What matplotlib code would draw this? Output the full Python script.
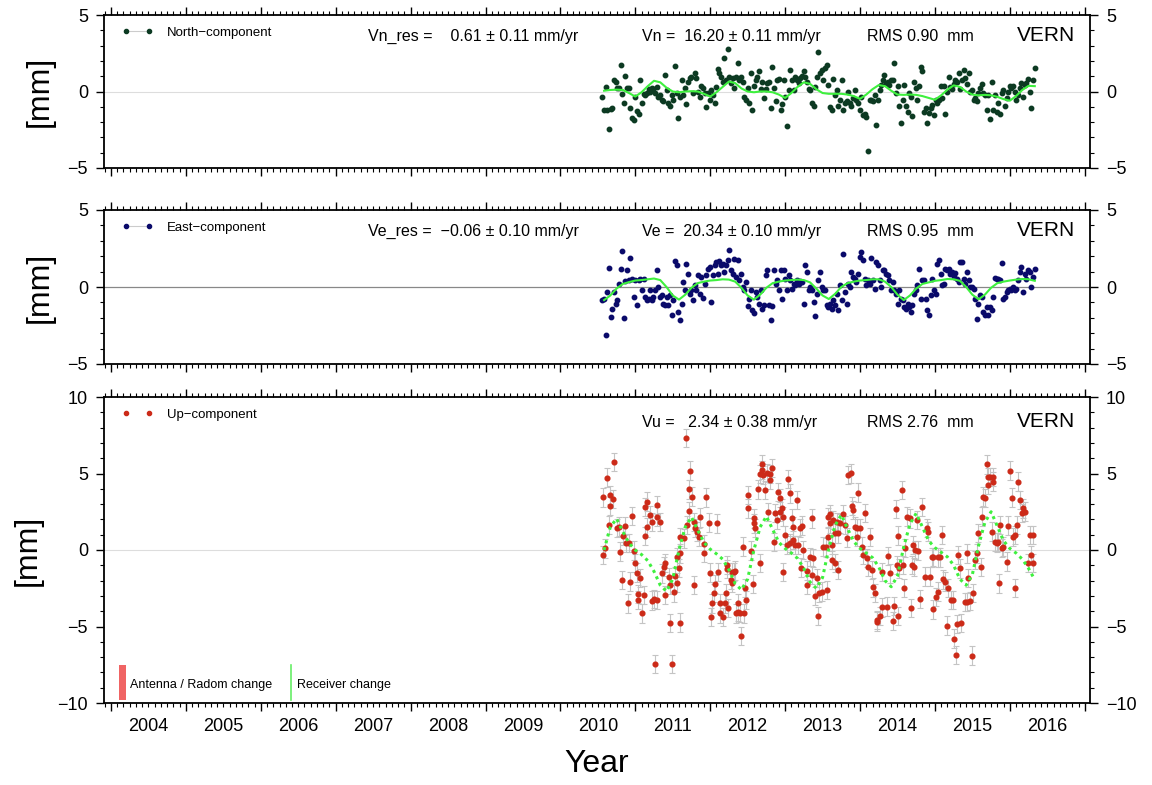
import numpy as np
import matplotlib
matplotlib.use('Agg')
import matplotlib.pyplot as plt
from matplotlib.ticker import MultipleLocator
from matplotlib.patches import Rectangle
from matplotlib.lines import Line2D
import matplotlib.transforms as mtransforms

plt.rcParams['font.family'] = ['Liberation Sans', 'DejaVu Sans']

# ---------------- data ----------------
year_labels = list(range(2004, 2017))
data_start, data_end = 2010.56, 2016.33

north_mm = [-0.37, -1.2, 0.28, -1.24, -2.44, -1.15, -1.05, 0.76, 0.61, 0.22, 0.24, 1.72, -0.15, -0.72, 1.02, 0.24, 0.26,
            -1.09, -1.74, -1.85, -0.33, -1.26, -1.46, 0.72, -0.72, -0.17, -0.22, -0.07, 0.15, 0.0, 0.22, 0.15, -0.07, 0.3,
            -0.33, -0.22, -0.54, -0.65, 1.07, 0.11, -0.76, -0.94, -0.22, -0.54, 1.68, -0.11, -1.74, -0.33, 0.76, -0.22,
            0.22, -0.81, 0.65, 0.87, 0.98, -0.11, 1.2, 0.87, 0.0, -0.33, 0.37, 0.22, -0.07, -1.02, -0.11, -0.54, 0.11,
            -0.22, -0.72, 0.28, 1.46, 1.2, 0.98, 0.65, 2.18, 0.76, 2.79, 0.94, 0.54, 0.89, 0.22, 0.98, 1.85, 0.76, 0.94,
            0.65, -0.37, -0.54, 0.22, -0.76, 1.24, -1.2, 0.37, 0.76, 0.98, 1.37, 0.15, 0.59, -0.44, 0.15, 0.54, 0.65,
            -1.09, 1.63, 0.22, -0.65, 0.76, 0.83, -1.2, -0.81, 0.76, -0.33, -2.24, 0.11, 1.42, 0.76, 0.07, 0.98, 0.76,
            0.54, 0.87, 1.02, 1.37, 0.98, 0.65, 0.15, 0.11, -0.76, -0.98, 0.28, 0.98, 2.61, 1.2, 1.42, 0.76, 1.53, 1.74,
            0.44, -1.02, -1.2, 0.83, -0.22, 0.11, -0.98, -0.54, 0.76, -1.2, -0.76, -0.65, 0.0, -0.76, -0.98, -0.44, 0.11,
            -0.54, -0.76, -1.2, -0.33, -1.53, -1.46, -1.68, -3.92, -0.54, -0.54, -0.59, -0.22, -2.18, -0.54, 0.11, 0.44,
            0.72, 1.09, 0.54, 0.65, 0.44, 0.76, 0.76, 1.85, -0.11, 0.37, -0.98, -2.03, -0.54, 0.44, -0.94, -1.37, -0.11,
            -0.33, -1.63, 0.65, 0.22, -0.54, 0.33, 1.57, 1.31, -1.31, -1.09, -2.03, -1.42, -1.09, -0.87, -1.53, -0.54,
            -0.76, -0.54, 0.37, -0.44, 0.33, -1.48, 0.0, 0.94, 0.28, 0.15, 0.5, 0.72, 0.65, 1.24, 0.15, 0.76, 1.42, 0.87,
            0.5, 1.2, 0.0, 0.11, -0.54, -0.44, -0.65, -0.11, 0.22, 0.5, -0.07, -0.22, -1.2, -0.22, -1.81, 0.65, -1.2,
            -0.22, -1.35, -0.76, -1.46, -0.11, 0.11, -0.98, -0.44, 0.0, 0.37, 0.22, 0.33, 0.0, -0.54, -0.22, 0.22, 0.54,
            -0.33, 0.44, 0.54, 0.81, 0.0, -1.09, 0.76, 1.52]

east_mm = [-0.82, -0.76, -3.14, -0.32, 1.26, -1.95, -1.41, -0.32, -1.08, -0.87, 0.22, 1.15, 2.34, -1.99, 0.39, 1.08,
           0.43, 1.9, 0.54, -0.65, 0.43, -1.19, 0.48, 0.54, -0.22, 0.54, -0.65, -0.87, -0.76, -0.22, -0.87, -0.65,
           -0.22, 1.13, 0.0, -0.65, -0.54, -1.08, -1.19, -0.65, -1.19, -0.54, -1.84, -0.87, 1.69, 1.41, -1.62, -2.16,
           -1.08, 0.32, -0.22, 1.47, 0.87, -0.43, -0.17, -0.87, 0.11, -0.22, 0.76, -0.43, 0.65, -0.69, 0.22, 0.76,
           1.19, 1.3, -0.97, 0.76, 1.41, 1.62, 0.87, 1.67, 1.41, 1.52, 0.97, 1.41, 1.73, 2.38, 1.08, 0.87, 1.84, 0.65,
           1.73, 0.43, 0.87, 0.0, -0.22, 0.32, -1.26, -0.76, -0.22, -1.52, -1.69, -0.32, -0.65, -1.08, -0.22, -1.41,
           -1.19, 0.76, 1.08, -1.19, -2.12, -1.26, 1.08, 0.17, 0.43, -0.22, 1.08, -0.76, 1.13, 0.54, -0.22, 0.76, 0.43,
           -0.11, 0.22, 0.11, 0.43, 0.22, 0.39, 0.32, -1.08, 1.41, 0.97, -0.22, 0.0, -0.22, -0.97, -1.9, -0.43, 0.43,
           0.97, 0.0, -0.22, -0.22, -1.19, -1.3, -1.08, -1.41, -0.87, -1.19, -0.43, -1.52, 0.11, -0.87, 2.16, -0.32,
           -1.08, 0.22, 0.0, 0.97, 0.65, 0.54, 0.32, 0.87, 1.95, 2.27, 1.73, 0.54, 0.11, 0.43, 0.22, 1.9, 0.43, -0.11,
           1.62, 1.41, 0.43, 0.0, 1.08, 1.13, 0.87, 0.76, 0.48, -0.22, 0.32, -0.22, -0.48, -1.08, -0.17, -0.76, -0.87,
           -1.3, -1.41, -1.08, -1.3, -1.62, -1.19, -0.43, -0.22, 0.11, 1.19, -0.76, 0.48, 0.43, -0.76, -1.52, -1.84,
           -0.54, 0.54, -0.22, -0.43, 1.52, 1.73, 0.87, 0.11, 0.22, 1.19, 1.08, 1.19, 0.87, 0.97, 0.65, 0.91, 0.54,
           0.32, 1.62, 1.62, 0.54, 0.22, 0.97, 0.43, 0.0, 0.0, -0.11, -0.76, -2.06, -1.08, -0.54, -0.65, -1.62, -1.84,
           -1.3, -1.84, -1.3, -1.52, -0.65, 0.61, 0.54, 0.54, 0.43, 1.56, -0.76, -0.65, -0.32, -0.22, -0.11, -0.22,
           0.0, -0.22, -0.11, 0.43, 0.97, 1.3, -0.32, 0.87, 0.54, 1.08, 0.97, 0.0, 0.65, 1.19]

up_t = [2010.569, 2010.569, 2010.600, 2010.623, 2010.645, 2010.667, 2010.667, 2010.698, 2010.720, 2010.756, 2010.778,
        2010.800, 2010.823, 2010.836, 2010.858, 2010.880, 2010.898, 2010.911, 2010.934, 2010.956, 2010.978, 2011.000,
        2011.023, 2011.031, 2011.031, 2011.067, 2011.089, 2011.111, 2011.134, 2011.134, 2011.156, 2011.156, 2011.200,
        2011.223, 2011.223, 2011.245, 2011.258, 2011.289, 2011.289, 2011.289, 2011.334, 2011.356, 2011.378, 2011.400,
        2011.400, 2011.445, 2011.458, 2011.467, 2011.489, 2011.511, 2011.534, 2011.556, 2011.556, 2011.587, 2011.600,
        2011.600, 2011.600, 2011.645, 2011.671, 2011.689, 2011.711, 2011.711, 2011.734, 2011.756, 2011.778, 2011.778,
        2011.800, 2011.823, 2011.845, 2011.867, 2011.911, 2011.911, 2011.947, 2011.978, 2012.000, 2012.014, 2012.023,
        2012.045, 2012.067, 2012.089, 2012.098, 2012.125, 2012.125, 2012.169, 2012.191, 2012.214, 2012.223, 2012.223,
        2012.236, 2012.276, 2012.289, 2012.294, 2012.320, 2012.334, 2012.338, 2012.365, 2012.365, 2012.391, 2012.409,
        2012.431, 2012.445, 2012.467, 2012.480, 2012.511, 2012.511, 2012.543, 2012.565, 2012.578, 2012.578, 2012.600,
        2012.636, 2012.658, 2012.667, 2012.689, 2012.689, 2012.711, 2012.734, 2012.756, 2012.778, 2012.800, 2012.800,
        2012.823, 2012.845, 2012.867, 2012.889, 2012.911, 2012.934, 2012.934, 2012.956, 2012.978, 2012.978, 2013.000,
        2013.023, 2013.045, 2013.067, 2013.067, 2013.089, 2013.111, 2013.111, 2013.134, 2013.156, 2013.178, 2013.200,
        2013.209, 2013.223, 2013.245, 2013.289, 2013.289, 2013.334, 2013.356, 2013.365, 2013.378, 2013.405, 2013.423,
        2013.440, 2013.458, 2013.489, 2013.511, 2013.547, 2013.556, 2013.578, 2013.578, 2013.600, 2013.600, 2013.623,
        2013.631, 2013.645, 2013.667, 2013.667, 2013.689, 2013.711, 2013.711, 2013.734, 2013.778, 2013.800, 2013.823,
        2013.845, 2013.876, 2013.889, 2013.911, 2013.934, 2013.956, 2013.956, 2013.978, 2014.000, 2014.023, 2014.045,
        2014.067, 2014.089, 2014.111, 2014.134, 2014.156, 2014.169, 2014.200, 2014.223, 2014.223, 2014.267, 2014.289,
        2014.289, 2014.356, 2014.378, 2014.400, 2014.436, 2014.458, 2014.476, 2014.489, 2014.511, 2014.511, 2014.525,
        2014.556, 2014.569, 2014.591, 2014.600, 2014.623, 2014.667, 2014.680, 2014.689, 2014.711, 2014.725, 2014.734,
        2014.756, 2014.778, 2014.800, 2014.823, 2014.867, 2014.889, 2014.911, 2014.934, 2014.956, 2014.978, 2014.978,
        2015.009, 2015.036, 2015.045, 2015.067, 2015.089, 2015.111, 2015.134, 2015.156, 2015.178, 2015.209, 2015.236,
        2015.254, 2015.276, 2015.298, 2015.311, 2015.334, 2015.347, 2015.400, 2015.423, 2015.423, 2015.445, 2015.467,
        2015.489, 2015.511, 2015.534, 2015.556, 2015.578, 2015.609, 2015.623, 2015.645, 2015.667, 2015.689, 2015.711,
        2015.711, 2015.734, 2015.756, 2015.778, 2015.778, 2015.800, 2015.823, 2015.845, 2015.858, 2015.867, 2015.889,
        2015.911, 2015.956, 2015.978, 2016.000, 2016.023, 2016.045, 2016.067, 2016.067, 2016.089, 2016.111, 2016.134,
        2016.156, 2016.178, 2016.200, 2016.245, 2016.267, 2016.289, 2016.311, 2016.311]
up_mm = [3.44, -0.33, 0.10, 4.73, 1.63, 2.88, 3.60, 3.33, 5.77, 1.42, 1.53, -0.10, -1.96, 0.92, 1.57, 0.44, -3.49, 0.44,
         -2.07, 2.22, -0.04, -0.83, -1.48, -3.27, -2.88, -1.85, -4.14, -2.94, 2.83, 0.92, 1.48, 3.16, 2.29, 1.85, -3.31,
         -3.22, -7.47, 2.18, 2.94, -3.27, 1.85, -1.53, -1.09, -2.94, -0.87, -1.79, -2.29, -4.79, -7.47, -2.77, -1.70,
         -0.48, -2.13, -1.18, -0.22, 0.87, -4.75, 0.76, 7.30, 1.63, 3.96, 2.55, 5.19, 3.49, 1.85, -2.29, 1.42, 1.20,
         0.87, 2.13, -0.17, 0.37, 3.44, 1.79, -1.48, -4.36, -3.49, -2.83, -2.24, 1.74, -1.42, -4.14, -3.49, -4.36,
         -3.49, -2.83, -1.26, -0.98, -3.77, -1.96, -1.42, -2.13, -1.42, -1.35, -4.14, -3.49, -4.03, -4.10, -5.60, 0.22,
         -4.14, -2.50, -3.27, 3.60, 2.72, -0.04, -2.24, 2.07, 1.74, 1.42, 3.96, -0.83, 4.95, 5.62, 5.23, 4.90, 3.92,
         5.05, 2.50, 4.95, 4.58, 5.34, 0.54, 2.40, 1.96, 3.81, 2.51, 3.38, 2.72, 2.18, -1.42, 0.98, 0.33, 4.64, 0.44,
         3.70, 2.07, 1.53, 0.65, 0.33, 3.27, 0.33, 1.42, -1.15, 1.59, 0.00, -1.35, -2.29, -0.44, 2.07, -1.63, -0.54,
         -3.00, -1.81, -4.31, -2.83, -2.72, 0.22, 0.17, -2.61, 0.87, 2.13, 1.74, 2.35, 0.33, -0.65, 1.96, 1.09, -0.87,
         1.85, 1.09, -1.31, 1.74, 2.35, 1.63, 0.81, 4.90, 5.01, 2.88, 2.61, 1.53, 1.42, 0.87, 3.75, 1.42, 0.22, -0.33,
         2.40, -0.54, -1.09, 0.87, -1.31, -2.44, -2.83, -4.57, -4.68, -4.31, -1.42, -3.75, -3.70, -0.39, -1.53, -4.64,
         -3.66, 2.68, -0.98, 0.94, -4.31, -1.20, 3.92, -0.98, -2.50, 0.11, 2.18, 2.07, -3.81, -0.98, 0.33, -1.13, 0.00,
         1.96, -0.04, -3.20, 2.79, -1.74, 1.42, 1.20, -1.74, -0.48, -0.44, -3.88, -3.09, -2.72, -0.48, -0.48, 0.98,
         -1.92, -2.07, -4.94, -2.50, -3.27, -3.27, -5.79, -6.86, -4.84, -0.33, -1.20, -4.79, -3.38, -0.22, -3.38, -1.85,
         -3.33, -6.90, -2.79, -0.65, -0.22, 1.13, -1.13, 2.18, 3.49, 3.38, 5.60, 4.79, 4.25, 4.79, 1.20, 4.79, 4.47,
         0.54, 0.48, 0.54, -2.18, 1.63, 0.11, 0.22, -0.76, 1.59, 5.19, 3.42, 0.87, 0.98, -2.50, 1.63, 4.47, 3.27, 2.40,
         2.72, 2.51, -0.87, 0.98, -0.33, 0.98, -0.87]
up_err = 0.6

# seasonal model curves, monthly values from Aug 2010 to May 2016
model_start = 2010.583
north_fit = [0.05, 0.1, 0.12, 0.1, -0.1,
             -0.33, -0.05, 0.35, 0.7, 0.6, 0.25, 0.0, -0.05, 0.0, 0.02, 0.0, -0.15,
             -0.33, -0.05, 0.3, 0.65, 0.55, 0.2, 0.0, -0.05, 0.0, 0.0, -0.05, -0.2,
             -0.42, -0.1, 0.3, 0.6, 0.5, 0.15, -0.1, -0.15, -0.15, -0.15, -0.2, -0.3,
             -0.48, -0.2, 0.15, 0.42, 0.35, 0.05, -0.2, -0.22, -0.2, -0.22, -0.3, -0.42,
             -0.54, -0.25, 0.12, 0.4, 0.3, 0.0, -0.2, -0.25, -0.22, -0.25, -0.35, -0.5,
             -0.6, -0.3, 0.1, 0.37, 0.35]
east_fit = [-0.85, -0.55, -0.1, 0.2, 0.32,
            0.42, 0.45, 0.5, 0.55, 0.45, 0.0, -0.55, -0.82, -0.5, -0.05, 0.25, 0.35,
            0.42, 0.45, 0.5, 0.48, 0.35, -0.05, -0.55, -0.82, -0.5, -0.05, 0.25, 0.35,
            0.42, 0.45, 0.48, 0.45, 0.3, -0.1, -0.55, -0.78, -0.45, 0.0, 0.25, 0.35,
            0.42, 0.45, 0.5, 0.5, 0.35, 0.0, -0.5, -0.85, -0.55, -0.1, 0.2, 0.3,
            0.4, 0.45, 0.52, 0.5, 0.4, 0.0, -0.5, -0.8, -0.5, -0.05, 0.25, 0.35,
            0.42, 0.48, 0.52, 0.5, 0.4]
up_fit = [0.0, 1.5, 2.05, 1.2, 0.45,
          0.0, -0.3, -0.7, -1.4, -2.3, -2.7, -1.9, 0.0, 1.5, 2.15, 1.3, 0.5,
          0.05, -0.25, -0.6, -1.3, -2.2, -2.6, -1.9, 0.0, 1.5, 2.2, 1.35, 0.5,
          0.1, -0.2, -0.55, -1.2, -2.1, -2.5, -1.8, 0.1, 1.6, 2.3, 1.4, 0.55,
          0.1, -0.2, -0.5, -1.1, -2.0, -2.4, -1.7, 0.2, 1.7, 2.4, 1.5, 0.6,
          0.15, -0.15, -0.45, -1.0, -1.9, -2.3, -1.6, 0.3, 1.8, 2.5, 1.55, 0.6,
          0.1, -0.2, -0.6, -1.2, -1.95]

stats_n = ["Vn_res =    0.61 \u00b1 0.11 mm/yr", "Vn =  16.20 \u00b1 0.11 mm/yr", "RMS 0.90  mm"]
stats_e = ["Ve_res =  \u22120.06 \u00b1 0.10 mm/yr", "Ve =  20.34 \u00b1 0.10 mm/yr", "RMS 0.95  mm"]
stats_u = ["", "Vu =   2.34 \u00b1 0.38 mm/yr", "RMS 2.76  mm"]
station = "VERN"

# ---------------- style ----------------
NCOL = '#0c3a22'
ECOL = '#0a0a6a'
UCOL = '#cc2a18'
GREEN = '#3ef03e'
XMIN, XMAX = 2003.907, 2017.07

fig = plt.figure(figsize=(11.52, 7.85), dpi=100, facecolor='white')
L, W = 104 / 1152, 986 / 1152


def box(top, bot):
    return [L, 1 - bot / 785, W, (bot - top) / 785]


ax1 = fig.add_axes(box(15, 168))
ax2 = fig.add_axes(box(210, 364))
ax3 = fig.add_axes(box(397, 703))


def style(ax, ylim, ylab_x):
    ax.set_xlim(XMIN, XMAX)
    ax.set_ylim(*ylim)
    ax.xaxis.set_major_locator(MultipleLocator(1))
    ax.xaxis.set_minor_locator(MultipleLocator(1 / 12))
    ax.yaxis.set_major_locator(MultipleLocator(5))
    ax.yaxis.set_minor_locator(MultipleLocator(1))
    ax.tick_params(which='both', direction='out', top=True, right=True, labelright=True,
                   labelbottom=False, labelsize=13, pad=6)
    ax.tick_params(which='major', length=5.5, width=1.0)
    ax.tick_params(which='minor', length=3, width=0.8)
    for s in ax.spines.values():
        s.set_linewidth(1.3)
    ax.set_ylabel('[mm]', fontsize=23)
    ax.yaxis.set_label_coords(ylab_x, 0.5)


style(ax1, (-5, 5), -0.050)
style(ax2, (-5, 5), -0.050)
style(ax3, (-10, 10), -0.062)

n_t = np.linspace(data_start, data_end, len(north_mm))
e_t = np.linspace(data_start, data_end, len(east_mm))
fit_t = model_start + np.arange(len(north_fit)) / 12

ax1.axhline(0, color='#dddddd', lw=0.8, zorder=0)
ax2.axhline(0, color='#888888', lw=0.9, zorder=0)
ax3.axhline(0, color='#dddddd', lw=0.8, zorder=0)

ax1.plot(n_t, north_mm, 'o', ms=3.2, color=NCOL, zorder=3)
ax1.plot(fit_t, north_fit, '-', color=GREEN, lw=1.5, zorder=4)

ax2.plot(e_t, east_mm, 'o', ms=3.2, color=ECOL, zorder=3)
ax2.plot(fit_t, east_fit, '-', color=GREEN, lw=1.5, zorder=4)

ax3.errorbar(up_t, up_mm, yerr=up_err, fmt='none', ecolor='#c4c4c4', elinewidth=0.8, capsize=2, capthick=0.8, zorder=2)
ax3.plot(up_t, up_mm, 'o', ms=3.4, color=UCOL, zorder=3)
ax3.plot(fit_t, up_fit, linestyle=(0, (1, 1.3)), color=GREEN, lw=2.2, zorder=4)

# legends
for ax, col, label, ls in [(ax1, NCOL, 'North\u2212component', '-'),
                            (ax2, ECOL, 'East\u2212component', '-'),
                            (ax3, UCOL, 'Up\u2212component', 'none')]:
    h = Line2D([], [], color='#cccccc', lw=0.8, linestyle=ls, marker='o', ms=3,
               markerfacecolor=col, markeredgecolor=col)
    ax.legend(handles=[h], labels=[label], loc='upper left', bbox_to_anchor=(0.006, 1.0),
              frameon=False, numpoints=2, handlelength=2.4, handletextpad=1.0, fontsize=9.5)

# statistics text
for ax, stats, yt in [(ax1, stats_n, 0.86), (ax2, stats_e, 0.86), (ax3, stats_u, 0.918)]:
    ax.text(0.268, yt, stats[0], transform=ax.transAxes, fontsize=11.5, va='center', ha='left')
    ax.text(0.546, yt, stats[1], transform=ax.transAxes, fontsize=11.5, va='center', ha='left')
    ax.text(0.774, yt, stats[2], transform=ax.transAxes, fontsize=11.5, va='center', ha='left')
    ax.text(0.985, yt + (0.005 if ax is not ax3 else 0.003), station, transform=ax.transAxes,
            fontsize=15, va='center', ha='right')

# equipment change legend
ax3.add_patch(Rectangle((0.0152, 0.010), 0.0071, 0.114, transform=ax3.transAxes,
                        facecolor='#f06464', edgecolor='none', zorder=5))
ax3.text(0.0264, 0.059, 'Antenna / Radom change', transform=ax3.transAxes, fontsize=9, va='center', ha='left')
ax3.add_line(Line2D([0.19, 0.19], [0.010, 0.124], transform=ax3.transAxes, color='#66ee66', lw=1.2))
ax3.text(0.196, 0.059, 'Receiver change', transform=ax3.transAxes, fontsize=9, va='center', ha='left')

# year labels centred on each year
trans = mtransforms.blended_transform_factory(ax3.transData, ax3.transAxes)
for y in year_labels:
    ax3.text(y + 0.5, -0.078, str(y), transform=trans, ha='center', va='center', fontsize=13)
ax3.text(0.5, -0.2, 'Year', transform=ax3.transAxes, ha='center', va='center', fontsize=23)

fig.savefig('out.png', dpi=100, facecolor='white')
